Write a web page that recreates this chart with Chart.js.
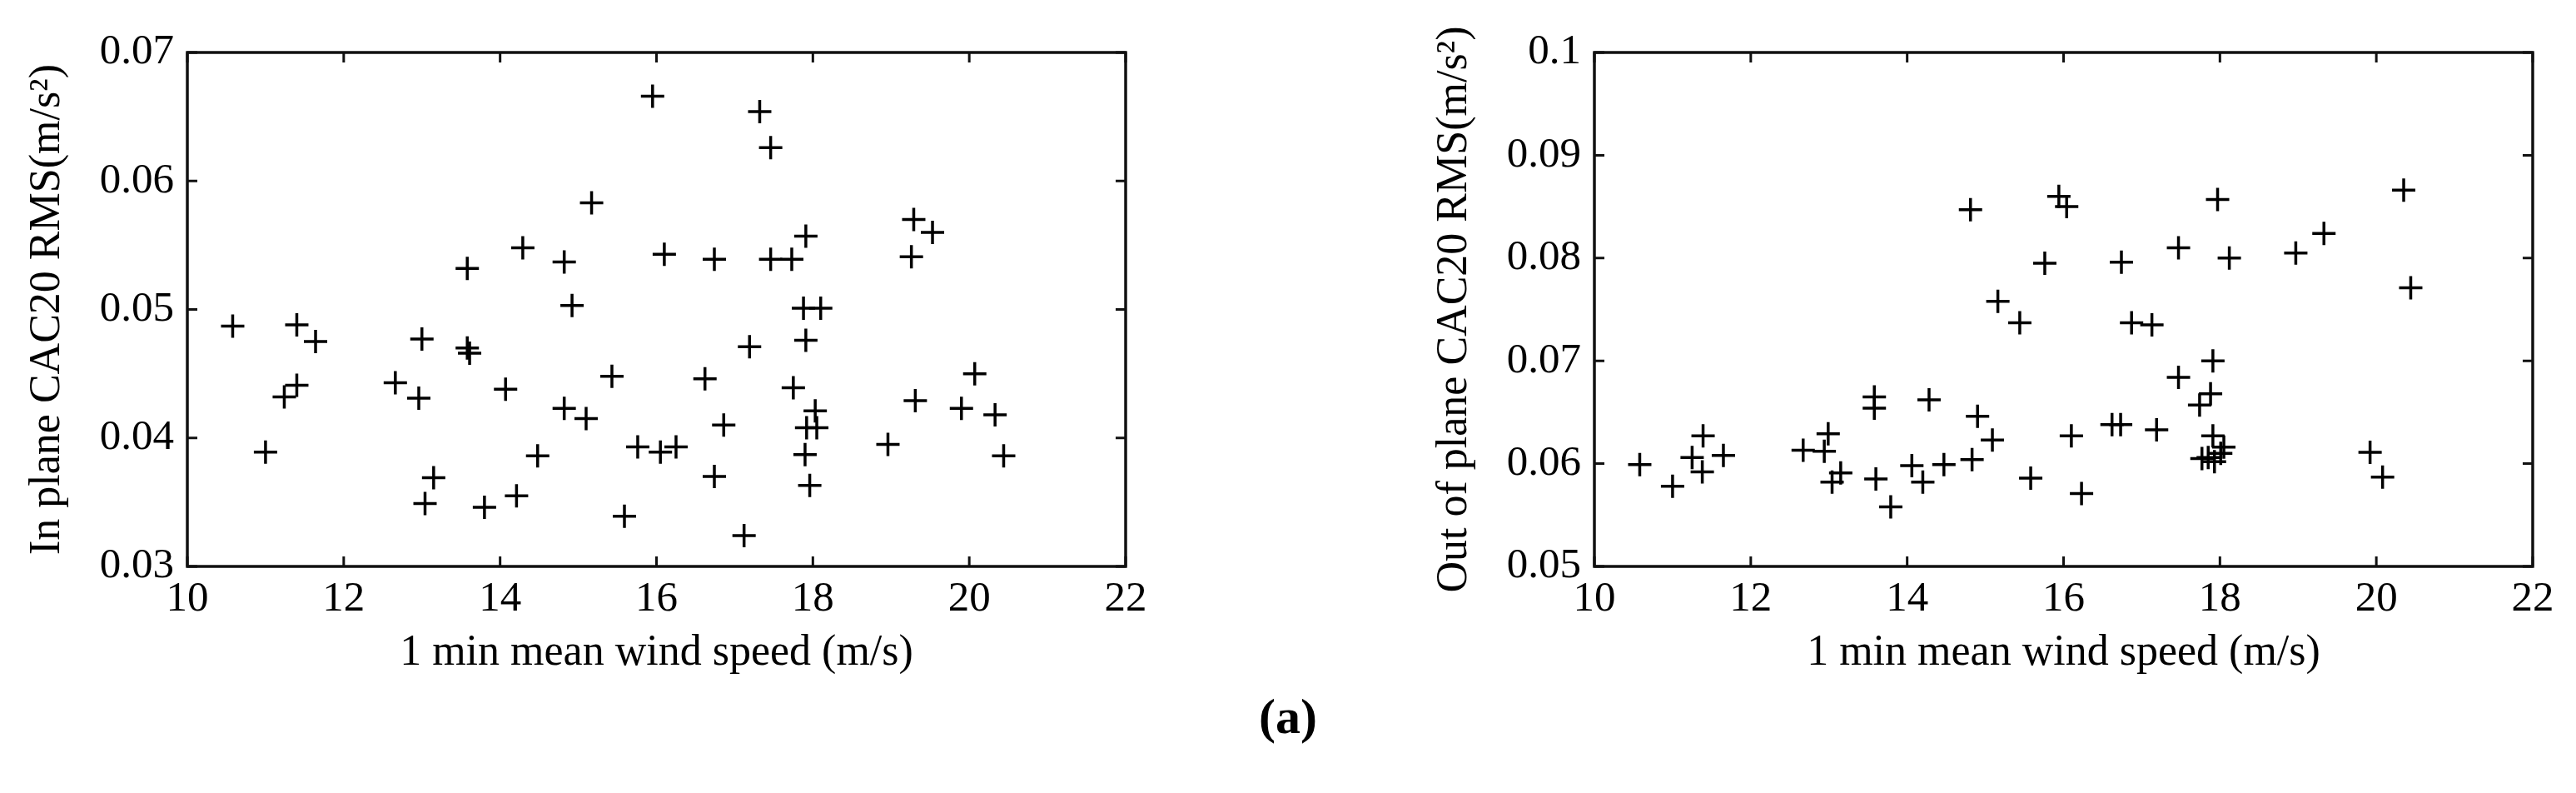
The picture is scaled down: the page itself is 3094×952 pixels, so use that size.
<!DOCTYPE html>
<html>
<head>
<meta charset="utf-8">
<script src="https://cdn.jsdelivr.net/npm/chart.js@4/dist/chart.umd.min.js"></script>
<style>
  html, body { margin: 0; padding: 0; background: #fff; }
  #wrap { position: relative; width: 3094px; height: 952px; background: #fff; overflow: hidden; }
  canvas { position: absolute; top: 0; }
  #cIn { left: 0; }
  #cOut { left: 1690px; }
  #label {
    position: absolute; left: 0; top: 830px; width: 3094px; text-align: center;
    font: bold 60px "Liberation Serif", "Times New Roman", serif; line-height: 1; color: #000;
  }
</style>
</head>
<body>
<div id="wrap">
  <canvas id="cIn" width="1404" height="952"></canvas>
  <canvas id="cOut" width="1404" height="952"></canvas>
  <div id="label">(a)</div>
</div>
<script>
// tick values / labels
var xTicks = [10, 12, 14, 16, 18, 20, 22];
var yTicksIn = [0.03, 0.04, 0.05, 0.06, 0.07];
var yTicksOut = [0.05, 0.06, 0.07, 0.08, 0.09, 0.1];

// in plane: 1 min mean wind speed (m/s) vs CAC20 RMS (m/s^2)
var windIn = [10.58, 11.00, 11.40, 11.64, 11.40, 11.24, 12.66, 12.96, 13.00, 13.15,
              13.04, 13.58, 13.58, 13.61, 13.80, 14.07, 14.29, 14.21, 14.48, 14.82,
              14.92, 14.82, 15.10, 15.17, 15.43, 15.59, 15.76, 15.95, 17.32, 17.46,
              19.29, 19.53, 19.26, 17.91, 16.10, 16.74, 17.46, 17.73, 17.88, 18.10,
              17.19, 17.91, 16.62, 17.75, 20.07, 19.31, 19.90, 20.33, 18.03, 17.92,
              18.05, 16.86, 16.05, 16.25, 18.96, 17.90, 20.44, 16.74, 17.96, 17.12];
var rmsIn = [0.0487, 0.0389, 0.0488, 0.0475, 0.0441, 0.0432, 0.0443, 0.0431, 0.0477, 0.0369,
             0.0349, 0.0532, 0.0470, 0.0466, 0.0346, 0.0438, 0.0548, 0.0355, 0.0386, 0.0537,
             0.0503, 0.0423, 0.0415, 0.0583, 0.0448, 0.0339, 0.0393, 0.0666, 0.0654, 0.0626,
             0.0570, 0.0560, 0.0541, 0.0557, 0.0543, 0.0539, 0.0539, 0.0539, 0.0501, 0.0501,
             0.0471, 0.0476, 0.0446, 0.0439, 0.0450, 0.0429, 0.0423, 0.0418, 0.0421, 0.0408,
             0.0408, 0.0410, 0.0389, 0.0393, 0.0395, 0.0387, 0.0386, 0.0370, 0.0363, 0.0324];

// out of plane
var windOut = [10.58, 11.00, 11.39, 11.25, 11.38, 11.65, 12.67, 12.94, 12.99, 13.04,
               13.15, 13.58, 13.58, 13.60, 13.79, 14.06, 14.28, 14.20, 14.47, 14.81,
               14.90, 14.83, 15.09, 15.16, 15.44, 15.58, 15.76, 15.94, 16.04, 16.10,
               16.23, 16.74, 17.97, 17.47, 18.12, 18.97, 19.33, 20.35, 20.44, 16.87,
               17.13, 17.91, 17.47, 17.88, 17.74, 16.62, 16.73, 17.19, 17.91, 18.05,
               18.01, 17.77, 17.93, 17.85, 19.92, 20.08];
var rmsOut = [0.0599, 0.0578, 0.0627, 0.0606, 0.0592, 0.0608, 0.0613, 0.0612, 0.0629, 0.0582,
              0.0591, 0.0665, 0.0654, 0.0585, 0.0558, 0.0598, 0.0662, 0.0582, 0.0599, 0.0847,
              0.0646, 0.0604, 0.0623, 0.0758, 0.0737, 0.0586, 0.0795, 0.0860, 0.0850, 0.0627,
              0.0571, 0.0796, 0.0857, 0.0810, 0.0800, 0.0805, 0.0824, 0.0866, 0.0771, 0.0737,
              0.0735, 0.0700, 0.0684, 0.0668, 0.0657, 0.0638, 0.0638, 0.0633, 0.0627, 0.0616,
              0.0610, 0.0605, 0.0602, 0.0606, 0.0611, 0.0587];

var FONT = '"Liberation Serif", "Times New Roman", serif';

function toPoints(xs, ys) {
  return xs.map(function(x, i) { return {x: x, y: ys[i]}; });
}

// MATLAB style box with inward ticks on all four sides
var framePlugin = {
  id: 'frame',
  afterDraw: function(chart) {
    var ctx = chart.ctx, a = chart.chartArea;
    var xs = chart.scales.x, ys = chart.scales.y;
    var len = 12;
    ctx.save();
    ctx.strokeStyle = '#111';
    ctx.lineWidth = 3;
    ctx.beginPath();
    xs.ticks.forEach(function(t) {
      var px = xs.getPixelForValue(t.value);
      ctx.moveTo(px, a.bottom); ctx.lineTo(px, a.bottom - len);
      ctx.moveTo(px, a.top); ctx.lineTo(px, a.top + len);
    });
    ys.ticks.forEach(function(t) {
      var py = ys.getPixelForValue(t.value);
      ctx.moveTo(a.left, py); ctx.lineTo(a.left + len, py);
      ctx.moveTo(a.right, py); ctx.lineTo(a.right - len, py);
    });
    ctx.stroke();
    ctx.lineWidth = 3.5;
    ctx.strokeRect(a.left, a.top, a.right - a.left, a.bottom - a.top);
    ctx.restore();
  }
};

function makeChart(id, pts, yTicks, yTitle) {
  return new Chart(document.getElementById(id), {
    type: 'scatter',
    data: {
      datasets: [{
        data: pts,
        pointStyle: 'cross',
        pointRadius: 14,
        pointHoverRadius: 14,
        pointBorderWidth: 3.5,
        borderColor: '#000',
        backgroundColor: '#000'
      }]
    },
    options: {
      responsive: false,
      animation: false,
      devicePixelRatio: 1,
      layout: { padding: { left: 0, right: 52, top: 63, bottom: 136 } },
      plugins: { legend: { display: false }, tooltip: { enabled: false } },
      scales: {
        x: {
          type: 'linear', min: xTicks[0], max: xTicks[xTicks.length - 1],
          afterBuildTicks: function(s) { s.ticks = xTicks.map(function(v) { return {value: v}; }); },
          afterFit: function(s) { s.height = 136; },
          grid: { display: false, drawTicks: false },
          border: { display: false },
          ticks: { color: '#000', font: { family: FONT, size: 51 }, padding: 9, maxRotation: 0, autoSkip: false },
          title: { display: true, text: '1 min mean wind speed (m/s)', color: '#000',
                   font: { family: FONT, size: 52 }, padding: { top: 0, bottom: 0 } }
        },
        y: {
          type: 'linear', min: yTicks[0], max: yTicks[yTicks.length - 1],
          afterBuildTicks: function(s) { s.ticks = yTicks.map(function(v) { return {value: v}; }); },
          afterFit: function(s) { s.width = 225; },
          grid: { display: false, drawTicks: false },
          border: { display: false },
          ticks: { color: '#000', font: { family: FONT, size: 51 }, padding: 16, autoSkip: false,
                   callback: function(v) { return String(v); } },
          title: { display: true, text: yTitle, color: '#000',
                   font: { family: FONT, size: 52 }, padding: { top: 26, bottom: 0 } }
        }
      }
    },
    plugins: [framePlugin]
  });
}

makeChart('cIn', toPoints(windIn, rmsIn), yTicksIn, 'In plane CAC20 RMS(m/s\u00B2)');
makeChart('cOut', toPoints(windOut, rmsOut), yTicksOut, 'Out of plane CAC20 RMS(m/s\u00B2)');
</script>
</body>
</html>
